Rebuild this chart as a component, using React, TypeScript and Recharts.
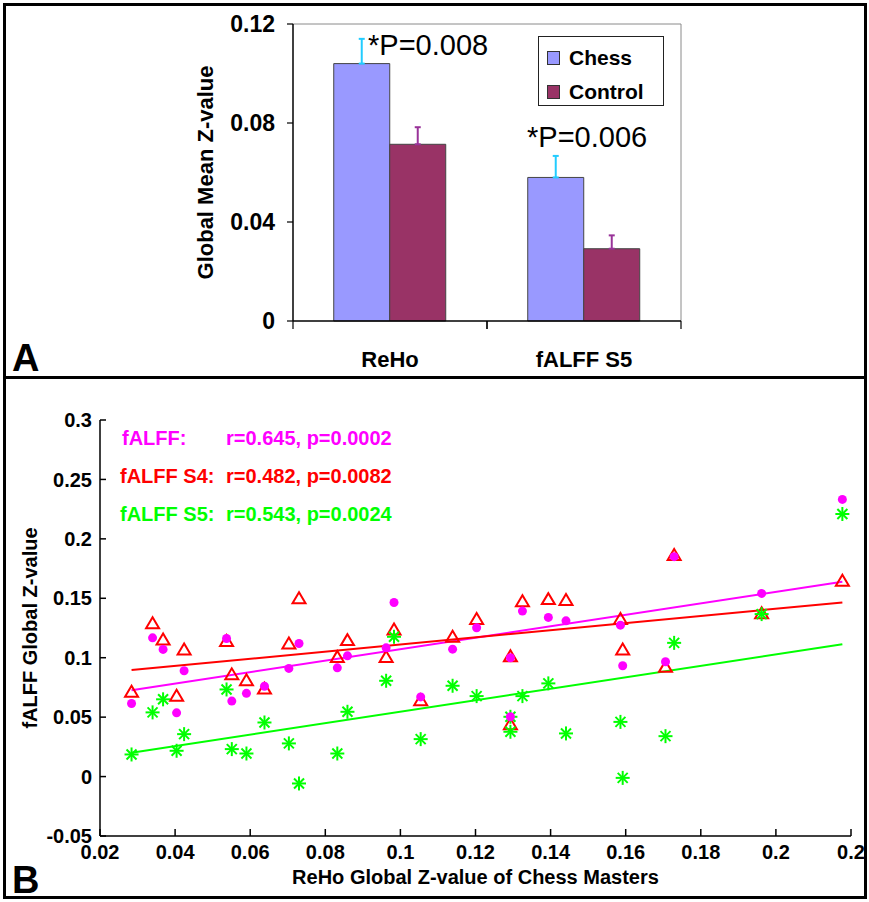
import React from 'react';
import {
  BarChart,
  Bar,
  XAxis,
  YAxis,
  ErrorBar,
  Legend,
  CartesianGrid,
  ScatterChart,
  Scatter,
  ReferenceLine,
} from 'recharts';

const FONT = '"Liberation Sans", Arial, Helvetica, sans-serif';

// Panel A: global mean Z-values per measure
const measures = ['ReHo', 'fALFF S5'];
const chessMean = [0.104, 0.058];
const controlMean = [0.0714, 0.0292];
const chessSem = [0.01, 0.0087];
const controlSem = [0.0069, 0.0054];
const barTicks = [0, 0.04, 0.08, 0.12];
const barTickLabels = ['0', '0.04', '0.08', '0.12'];
const pLabels = ['*P=0.008', '*P=0.006'];

// Panel B: one entry per chess master
const rehoZ = [
  0.0284, 0.034, 0.0368, 0.0404, 0.0424, 0.0537, 0.0551, 0.059, 0.0638, 0.0703,
  0.073, 0.0832, 0.0859, 0.0962, 0.0983, 0.1054, 0.1139, 0.1203, 0.1293, 0.1293,
  0.1325, 0.1394, 0.1441, 0.1586, 0.1592, 0.1706, 0.1729, 0.1962, 0.2177,
];
const falffZ = [
  0.0615, 0.1167, 0.107, 0.0536, 0.089, 0.1162, 0.0635, 0.07, 0.076, 0.091,
  0.112, 0.0915, 0.1016, 0.1083, 0.1465, 0.067, 0.1072, 0.1252, 0.1, 0.0503,
  0.1392, 0.1339, 0.131, 0.1274, 0.0932, 0.0966, 0.185, 0.1541, 0.2332,
];
const falffS4Z = [
  0.0713, 0.129, 0.1154, 0.068, 0.107, 0.114, 0.086, 0.081, 0.074, 0.112,
  0.15, 0.1007, 0.1148, 0.1007, 0.1238, 0.0643, 0.1176, 0.1325, 0.1013, 0.0441,
  0.1476, 0.1493, 0.1485, 0.1325, 0.107, 0.0923, 0.1864, 0.1375, 0.1647,
];
const falffS5Z = [
  0.0186, 0.054, 0.065, 0.0217, 0.0357, 0.0733, 0.0231, 0.0194, 0.0455, 0.0279,
  -0.0058, 0.0194, 0.0545, 0.0806, 0.1176, 0.0315, 0.0764, 0.0677, 0.0503, 0.0377,
  0.0677, 0.0784, 0.0363, 0.046, -0.0011, 0.034, 0.1125, 0.1367, 0.2209,
];

// least-squares lines, end points
const fitX = [0.0284, 0.2177];
const fitFalff = [0.0727, 0.1639];
const fitS4 = [0.0896, 0.1465];
const fitS5 = [0.02, 0.1114];

const scatterXTicks = [0.02, 0.04, 0.06, 0.08, 0.1, 0.12, 0.14, 0.16, 0.18, 0.2, 0.22];
const scatterXLabels = ['0.02', '0.04', '0.06', '0.08', '0.1', '0.12', '0.14', '0.16', '0.18', '0.2', '0.2'];
const scatterYTicks = [-0.05, 0, 0.05, 0.1, 0.15, 0.2, 0.25, 0.3];
const scatterYLabels = ['-0.05', '0', '0.05', '0.1', '0.15', '0.2', '0.25', '0.3'];

const statLines = [
  { name: 'fALFF:', stat: 'r=0.645, p=0.0002', color: '#ff00ff' },
  { name: 'fALFF S4:', stat: 'r=0.482, p=0.0082', color: '#ff0000' },
  { name: 'fALFF S5:', stat: 'r=0.543, p=0.0024', color: '#00ff00' },
];

const barRows = measures.map((m, i) => ({
  measure: m,
  chess: chessMean[i],
  control: controlMean[i],
  chessErr: [0, chessSem[i]],
  controlErr: [0, controlSem[i]],
}));

const pointsOf = (ys: number[]) => rehoZ.map((x, i) => ({ x, y: ys[i] }));

const CategoryTick = (props: any) => {
  const { x, y, payload } = props;
  const half = payload && payload.offset ? payload.offset : 97;
  const axisY = y - 30;
  return (
    <g>
      <line x1={x - half} y1={axisY} x2={x - half} y2={axisY + 8} stroke="#000" strokeWidth={1.2} />
      <line x1={x + half} y1={axisY} x2={x + half} y2={axisY + 8} stroke="#000" strokeWidth={1.2} />
      <text x={x} y={y} dy="0.71em" textAnchor="middle" fontSize={22} fontWeight="bold" fill="#000" fontFamily={FONT}>
        {payload.value}
      </text>
    </g>
  );
};

const LegendBox = (props: any) => {
  const items = props.payload || [];
  return (
    <div
      style={{
        boxSizing: 'border-box',
        width: 126,
        height: 70,
        border: '1.5px solid #222',
        background: '#fff',
        paddingTop: 13,
        paddingLeft: 8,
        fontFamily: FONT,
      }}
    >
      {items.map((it: any) => (
        <div key={it.value} style={{ display: 'flex', alignItems: 'center', height: 16, marginBottom: 18 }}>
          <span
            style={{
              display: 'inline-block',
              width: 13,
              height: 14,
              background: it.color,
              border: '1px solid #333',
              boxSizing: 'border-box',
              marginRight: 9,
            }}
          />
          <span style={{ fontSize: 21, fontWeight: 'bold', lineHeight: '16px', color: '#000' }}>{it.value}</span>
        </div>
      ))}
    </div>
  );
};

const Dot = (p: any) => <circle cx={p.cx} cy={p.cy} r={4.5} fill="#ff00ff" />;

const Triangle = (p: any) => (
  <polygon
    points={`${p.cx},${p.cy - 6} ${p.cx - 6.5},${p.cy + 5} ${p.cx + 6.5},${p.cy + 5}`}
    fill="none"
    stroke="#ff0000"
    strokeWidth={2}
  />
);

const Star = (p: any) => {
  const { cx, cy } = p;
  return (
    <g stroke="#00ff00" strokeWidth={2}>
      <line x1={cx - 7} y1={cy} x2={cx + 7} y2={cy} />
      <line x1={cx} y1={cy - 7} x2={cx} y2={cy + 7} />
      <line x1={cx - 5} y1={cy - 5} x2={cx + 5} y2={cy + 5} />
      <line x1={cx - 5} y1={cy + 5} x2={cx + 5} y2={cy - 5} />
    </g>
  );
};

const axisText = { fill: '#000', fontSize: 21, fontWeight: 'bold', fontFamily: FONT };

export default function App() {
  return (
    <div style={{ position: 'absolute', left: 0, top: 0, width: 869, height: 902, background: '#fff' }}>
      <div style={{ position: 'absolute', left: 0, top: 0 }}>
        <BarChart
          width={869}
          height={378}
          data={barRows}
          margin={{ top: 24, right: 188, bottom: 7, left: 233 }}
          barCategoryGap="21%"
          barGap={0}
        >
          <CartesianGrid
            stroke="#8a8a8a"
            horizontalCoordinatesGenerator={({ offset }: any) => [offset.top]}
            verticalCoordinatesGenerator={({ offset }: any) => [offset.left + offset.width]}
          />
          <XAxis
            dataKey="measure"
            height={50}
            interval={0}
            axisLine={{ stroke: '#000', strokeWidth: 1.5 }}
            tickLine={false}
            tickSize={8}
            tickMargin={22}
            tick={<CategoryTick />}
          />
          <YAxis
            width={60}
            domain={[0, 0.12]}
            ticks={barTicks}
            interval={0}
            tickFormatter={(_v: number, i: number) => barTickLabels[i]}
            axisLine={{ stroke: '#000', strokeWidth: 1.5 }}
            tickLine={{ stroke: '#000', strokeWidth: 1.2 }}
            tickSize={6}
            tickMargin={12}
            tick={{ ...axisText, fontSize: 23 }}
            label={{
              value: 'Global Mean Z-value',
              angle: -90,
              position: 'center',
              dx: -58,
              fill: '#000',
              fontSize: 22,
              fontWeight: 'bold',
              fontFamily: FONT,
            }}
          />
          <Legend
            layout="vertical"
            align="center"
            verticalAlign="middle"
            wrapperStyle={{ left: 538, top: 36, width: 126, height: 70 }}
            content={<LegendBox />}
          />
          <Bar dataKey="chess" name="Chess" fill="#9999ff" stroke="#444" strokeWidth={1} isAnimationActive={false}>
            <ErrorBar dataKey="chessErr" direction="y" width={3} stroke="#22ccff" strokeWidth={2} />
          </Bar>
          <Bar dataKey="control" name="Control" fill="#993366" stroke="#444" strokeWidth={1} isAnimationActive={false}>
            <ErrorBar dataKey="controlErr" direction="y" width={3} stroke="#993399" strokeWidth={2} />
          </Bar>
        </BarChart>
      </div>

      <div style={{ position: 'absolute', left: 0, top: 378 }}>
        <ScatterChart width={869} height={524} margin={{ top: 42, right: 18, bottom: 36, left: 30 }}>
          <XAxis
            type="number"
            dataKey="x"
            domain={[0.02, 0.22]}
            ticks={scatterXTicks}
            interval={0}
            tickFormatter={(_v: number, i: number) => scatterXLabels[i]}
            height={30}
            tickSize={-7}
            tickMargin={16}
            axisLine={{ stroke: '#000', strokeWidth: 1.5 }}
            tickLine={{ stroke: '#000', strokeWidth: 1.5 }}
            tick={{ ...axisText, fontSize: 20 }}
            label={{
              value: 'ReHo Global Z-value of Chess Masters',
              position: 'bottom',
              offset: 4,
              fill: '#000',
              fontSize: 20,
              fontWeight: 'bold',
              fontFamily: FONT,
            }}
          />
          <YAxis
            type="number"
            dataKey="y"
            domain={[-0.05, 0.3]}
            ticks={scatterYTicks}
            interval={0}
            tickFormatter={(_v: number, i: number) => scatterYLabels[i]}
            width={70}
            tickSize={-6}
            tickMargin={14}
            axisLine={{ stroke: '#000', strokeWidth: 1.5 }}
            tickLine={{ stroke: '#000', strokeWidth: 1.5 }}
            tick={{ ...axisText, fontSize: 20 }}
            label={{
              value: 'fALFF Global Z-value',
              angle: -90,
              position: 'center',
              dx: -35,
              fill: '#000',
              fontSize: 20,
              fontWeight: 'bold',
              fontFamily: FONT,
            }}
          />
          <Scatter name="fALFF S4" data={pointsOf(falffS4Z)} shape={Triangle} isAnimationActive={false} />
          <Scatter name="fALFF S5" data={pointsOf(falffS5Z)} shape={Star} isAnimationActive={false} />
          <Scatter name="fALFF" data={pointsOf(falffZ)} shape={Dot} isAnimationActive={false} />
          <ReferenceLine
            segment={[{ x: fitX[0], y: fitFalff[0] }, { x: fitX[1], y: fitFalff[1] }]}
            stroke="#ff00ff"
            strokeWidth={2}
          />
          <ReferenceLine
            segment={[{ x: fitX[0], y: fitS4[0] }, { x: fitX[1], y: fitS4[1] }]}
            stroke="#ff0000"
            strokeWidth={2}
          />
          <ReferenceLine
            segment={[{ x: fitX[0], y: fitS5[0] }, { x: fitX[1], y: fitS5[1] }]}
            stroke="#00ff00"
            strokeWidth={2}
          />
        </ScatterChart>
      </div>

      {/* panel letters, p-values and correlation notes */}
      <svg width={869} height={902} style={{ position: 'absolute', left: 0, top: 0, pointerEvents: 'none' }} fontFamily={FONT}>
        <text x={368} y={55} fontSize={29} fill="#000">{pLabels[0]}</text>
        <text x={527} y={147} fontSize={29} fill="#000">{pLabels[1]}</text>
        <text x={12} y={371} fontSize={38} fontWeight="bold" fill="#000">A</text>
        <text x={12} y={893} fontSize={38} fontWeight="bold" fill="#000">B</text>
        {statLines.map((s, i) => (
          <text key={s.name} y={445 + i * 38} fontSize={20} fontWeight="bold" fill={s.color}>
            <tspan x={i === 0 ? 122 : 120}>{s.name}</tspan>
            <tspan x={226}>{s.stat}</tspan>
          </text>
        ))}
      </svg>

      {/* panel frames */}
      <div style={{ position: 'absolute', left: 3, top: 3, width: 864, height: 896, border: '3px solid #000', boxSizing: 'border-box' }} />
      <div style={{ position: 'absolute', left: 3, top: 376, width: 864, height: 3, background: '#000' }} />
    </div>
  );
}
